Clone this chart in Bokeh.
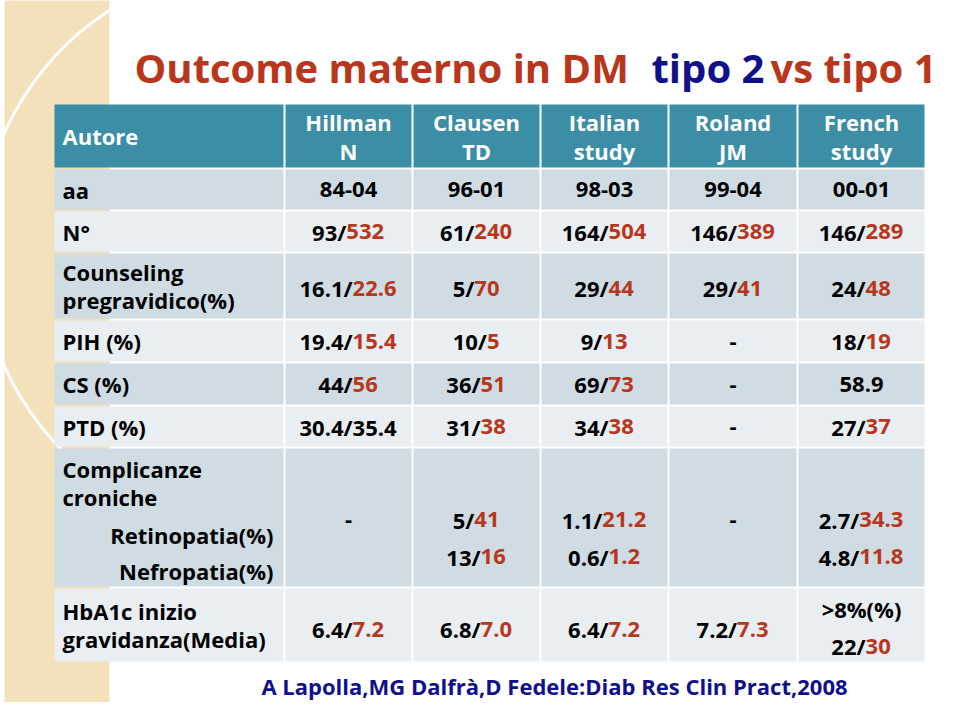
from bokeh.plotting import figure
from bokeh.models import Range1d, ColumnDataSource
from bokeh.core.properties import value
from bokeh.embed import file_html
from bokeh.resources import INLINE

# ---------------- data ----------------
title_parts = ["Outcome materno in DM", "tipo 2", "vs tipo 1"]
citation = "A Lapolla,MG Dalfrà,D Fedele:Diab Res Clin Pract,2008"
corner_label = "Autore"
authors = [["Hillman", "N"], ["Clausen", "TD"], ["Italian", "study"], ["Roland", "JM"], ["French", "study"]]
row_labels = [["aa"], ["N°"], ["Counseling", "pregravidico(%)"], ["PIH (%)"], ["CS (%)"],
              ["PTD (%)"], ["Complicanze", "croniche"], ["HbA1c inizio", "gravidanza(Media)"]]
sub_labels = ["Retinopatia(%)", "Nefropatia(%)"]

# black part (tipo 2) / red part (tipo 1)
aa_t2 = ["84-04", "96-01", "98-03", "99-04", "00-01"]
aa_t1 = ["", "", "", "", ""]
n_t2 = ["93/", "61/", "164/", "146/", "146/"]
n_t1 = ["532", "240", "504", "389", "289"]
couns_t2 = ["16.1/", "5/", "29/", "29/", "24/"]
couns_t1 = ["22.6", "70", "44", "41", "48"]
pih_t2 = ["19.4/", "10/", "9/", "-", "18/"]
pih_t1 = ["15.4", "5", "13", "", "19"]
cs_t2 = ["44/", "36/", "69/", "-", "58.9"]
cs_t1 = ["56", "51", "73", "", ""]
ptd_t2 = ["30.4/35.4", "31/", "34/", "-", "27/"]
ptd_t1 = ["", "38", "38", "", "37"]
retino_t2 = ["-", "5/", "1.1/", "-", "2.7/"]
retino_t1 = ["", "41", "21.2", "", "34.3"]
nefro_t2 = ["", "13/", "0.6/", "", "4.8/"]
nefro_t1 = ["", "16", "1.2", "", "11.8"]
hba_t2 = ["6.4/", "6.8/", "6.4/", "7.2/", "22/"]
hba_t1 = ["7.2", "7.0", "7.2", "7.3", "30"]
hba_note = ["", "", "", "", ">8%(%)"]

# ---------------- style / layout ----------------
FONT = "Open Sans"
RED = "#b8371c"
NAVY = "#10108a"
TEAL = "#3b8ea6"
DARK = "#cfdce3"
LIGHT = "#e8eef2"
BEIGE = "#f2e1ba"
FS = 22

col_edges = [54, 285, 413, 541, 669, 798, 926]
row_edges = [104, 169, 211, 253, 320, 363, 406, 448, 588, 663]

p = figure(width=943, height=702, x_range=Range1d(1, 944), y_range=Range1d(703, 1),
           output_backend="svg", toolbar_location=None, min_border=0,
           x_axis_location=None, y_axis_location=None)
p.grid.visible = False
p.outline_line_color = None
p.background_fill_color = "white"
p.border_fill_color = "white"

# decorative side panel
p.quad(left=[5], right=[110], top=[0], bottom=[716], fill_color=BEIGE, line_color=None)
p.arc(x=[265], y=[250], radius=285, start_angle=0, end_angle=6.283,
      line_color="white", line_width=3)

# table cells
L, R, T, B, C = [], [], [], [], []
for ri in range(len(row_edges) - 1):
    if ri == 0:
        color = TEAL
    else:
        color = DARK if ri % 2 == 1 else LIGHT
    for ci in range(len(col_edges) - 1):
        L.append(col_edges[ci] + 1)
        R.append(col_edges[ci + 1] - 1)
        T.append(row_edges[ri] + 1)
        B.append(row_edges[ri + 1] - 1)
        C.append(color)
p.quad(left=L, right=R, top=T, bottom=B, fill_color=C, line_color=None)


def txt(xs, ys, texts, color, align="center", size=FS, baseline="middle"):
    src = ColumnDataSource(dict(x=xs, y=ys, t=texts))
    p.text(x="x", y="y", text="t", source=src, text_color=color, text_align=align,
           text_baseline=baseline, text_font=value(FONT), text_font_style="bold",
           text_font_size=f"{size}px")


# char width estimates (em) for splitting coloured parts
W = {c: 0.572 for c in "0123456789>"}
W.update({"/": 0.372, ".": 0.285, "-": 0.322, "%": 0.86, "(": 0.33, ")": 0.33})


def width(s):
    return sum(W.get(ch, 0.57) for ch in s) * FS


col_cx = [(col_edges[i] + col_edges[i + 1]) / 2 for i in range(1, len(col_edges) - 1)]
row_cy = [(row_edges[i] + row_edges[i + 1]) / 2 for i in range(len(row_edges) - 1)]

# header
txt([63], [row_cy[0]], [corner_label], "white", align="left")
hx, hy, ht = [], [], []
for cx, lines in zip(col_cx, authors):
    for k, s in enumerate(lines):
        hx.append(cx)
        hy.append(row_cy[0] - 14.5 + 29 * k)
        ht.append(s)
txt(hx, hy, ht, "white")

# row labels
lx, ly, lt = [], [], []
for ri, lines in enumerate(row_labels):
    cy = row_cy[ri + 1]
    if ri == 6:
        ys = [row_edges[7] + 21, row_edges[7] + 49]
    else:
        ys = [cy - 14 * (len(lines) - 1) + 28 * k for k in range(len(lines))]
    for y, s in zip(ys, lines):
        lx.append(63)
        ly.append(y)
        lt.append(s)
txt(lx, ly, lt, "black", align="left")
txt([274, 274], [row_edges[7] + 87, row_edges[7] + 123], sub_labels, "black", align="right")

# values
bx, by, bt, rx, ry, rt = [], [], [], [], [], []


def add_row(t2, t1, y):
    for cx, a, b in zip(col_cx, t2, t1):
        if not a and not b:
            continue
        total = width(a) + width(b)
        split = cx - total / 2 + width(a)
        if a:
            bx.append(split); by.append(y); bt.append(a)
        if b:
            rx.append(split); ry.append(y); rt.append(b)


add_row(aa_t2, aa_t1, row_cy[1])
add_row(n_t2, n_t1, row_cy[2])
add_row(couns_t2, couns_t1, row_cy[3] + 2)
add_row(pih_t2, pih_t1, row_cy[4])
add_row(cs_t2, cs_t1, row_cy[5])
add_row(ptd_t2, ptd_t1, row_cy[6])
add_row(retino_t2, retino_t1, row_edges[7] + 72)
add_row(nefro_t2, nefro_t1, row_edges[7] + 109)
cy_h = row_cy[8]
plain = [t if not n else "" for t, n in zip(hba_t2, hba_note)]
plain1 = [t if not n else "" for t, n in zip(hba_t1, hba_note)]
noted = [t if n else "" for t, n in zip(hba_t2, hba_note)]
noted1 = [t if n else "" for t, n in zip(hba_t1, hba_note)]
add_row(plain, plain1, cy_h + 4)
add_row(noted, noted1, cy_h + 21)
txt(bx, by, bt, "black", align="right")
txt(rx, ry, rt, RED, align="left")
nx = [cx for cx, n in zip(col_cx, hba_note) if n]
nt = [n for n in hba_note if n]
txt(nx, [cy_h - 16] * len(nx), nt, "black")

# title
TY = 68
txt([135], [TY], [title_parts[0]], RED, align="left", size=40)
txt([652], [TY], [title_parts[1]], NAVY, align="left", size=40)
txt([937], [TY], [title_parts[2]], RED, align="right", size=40)

# citation
txt([555], [686], [citation], NAVY, size=22)

open("out.html", "w").write(file_html(p, INLINE))
